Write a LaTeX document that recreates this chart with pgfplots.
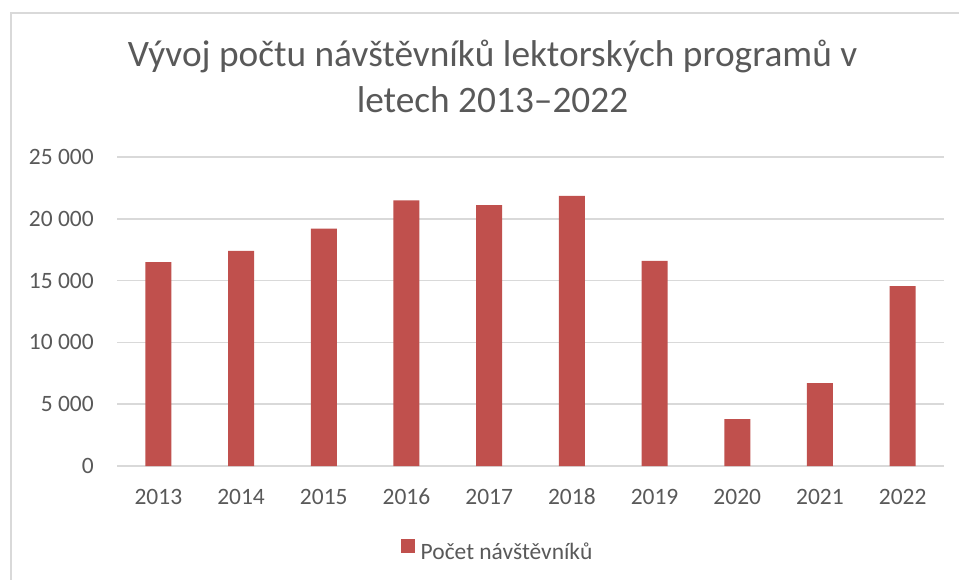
\documentclass[border=0pt]{standalone}
\usepackage{pgfplots}
\pgfplotsset{compat=1.18}
\usepackage{fontspec}
\setmainfont{Carlito}
\definecolor{barcol}{HTML}{C0504D}
\definecolor{txtgray}{HTML}{595959}
\definecolor{gridgray}{HTML}{D9D9D9}
\newlength\px
\setlength\px{0.75pt}
\begin{document}
\begin{tikzpicture}
\useasboundingbox (0,0) rectangle (959\px,-580\px);
\fill[white] (0,0) rectangle (959\px,-580\px);
\draw[gridgray, line width=1.5\px] (11\px,-580\px) -- (11\px,-13\px) -- (959\px,-13\px);
\node[anchor=base, text=txtgray, font=\fontsize{28pt}{32pt}\selectfont, inner sep=0pt] at (492.5\px,-67\px) {Vývoj počtu návštěvníků lektorských programů v};
\node[anchor=base, text=txtgray, font=\fontsize{28pt}{32pt}\selectfont, inner sep=0pt] at (492.5\px,-113\px) {letech 2013–2022};
\begin{axis}[
  at={(117\px,-466\px)}, anchor=south west,
  scale only axis,
  width=827\px, height=309\px,
  xmin=-0.5, xmax=9.5,
  ymin=0, ymax=25000,
  scaled y ticks=false,
  ybar, bar width=26\px,
  axis line style={draw=none},
  major tick length=0pt,
  xtick={0,1,2,3,4,5,6,7,8,9},
  xticklabels={2013,2014,2015,2016,2017,2018,2019,2020,2021,2022},
  ytick={0,5000,10000,15000,20000,25000},
  yticklabels={0,5 000,10 000,15 000,20 000,25 000},
  ymajorgrids, grid style={gridgray, line width=1.5\px},
  tick label style={text=txtgray, font=\fontsize{17.6pt}{20pt}\selectfont, inner sep=0pt},
  yticklabel style={anchor=east, xshift=-17.25pt},
  xticklabel style={anchor=base, yshift=-28.5pt},
  legend style={draw=none, fill=none, at={(0.459,-0.272)}, anchor=center,
    font=\fontsize{17.6pt}{20pt}\selectfont, text=txtgray,
    nodes={inner sep=0pt}, legend cell align=left},
  legend image code/.code={\fill[barcol] (0pt,-1pt) rectangle (10.5pt,9.5pt);},
  clip=false,
]
\addplot[fill=barcol, draw=none] coordinates {
(0,16500) (1,17400) (2,19200) (3,21500) (4,21100)
(5,21850) (6,16600) (7,3800) (8,6700) (9,14550)};
\addlegendentry{\hspace{4.5pt}Počet návštěvníků}
\end{axis}
\end{tikzpicture}
\end{document}
